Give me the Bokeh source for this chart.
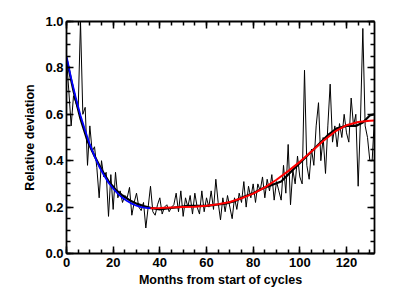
from bokeh.plotting import figure
from bokeh.models import LinearAxis, FixedTicker, PrintfTickFormatter, Range1d
from bokeh.embed import file_html
from bokeh.resources import INLINE

# Monthly relative deviation (thin noisy line), months 0..132
months = list(range(133))
deviation = [
    0.84, 0.70, 0.55, 0.68, 0.65, 0.62, 1.00, 0.60, 0.63, 0.38,
    0.55, 0.44, 0.46, 0.37, 0.24, 0.40, 0.33, 0.35, 0.16, 0.34,
    0.19, 0.35, 0.24, 0.27, 0.22, 0.25, 0.24, 0.285, 0.165, 0.22,
    0.26, 0.20, 0.185, 0.22, 0.11, 0.20, 0.29, 0.18, 0.165, 0.21,
    0.24, 0.17, 0.20, 0.21, 0.18, 0.20, 0.21, 0.26, 0.18, 0.27,
    0.16, 0.24, 0.20, 0.25, 0.17, 0.26, 0.20, 0.17, 0.27, 0.18,
    0.24, 0.20, 0.27, 0.19, 0.32, 0.22, 0.145, 0.24, 0.18, 0.25,
    0.20, 0.15, 0.24, 0.19, 0.26, 0.22, 0.31, 0.20, 0.29, 0.24,
    0.30, 0.22, 0.30, 0.27, 0.33, 0.24, 0.32, 0.27, 0.34, 0.23,
    0.31, 0.27, 0.23, 0.38, 0.26, 0.47, 0.21, 0.36, 0.30, 0.42,
    0.33, 0.30, 0.79, 0.38, 0.32, 0.45, 0.38, 0.55, 0.65, 0.40,
    0.50, 0.345, 0.55, 0.73, 0.48, 0.55, 0.46, 0.56, 0.50, 0.60,
    0.52, 0.48, 0.67, 0.55, 0.60, 0.29, 0.58, 0.97, 0.55, 0.50,
    0.40, 0.40, 0.59,
]

# Smoothed curve (thick black)
smooth_months = [0, 3, 6, 9, 12, 15, 18, 21, 24, 27, 30, 33, 36, 40, 44, 48,
                 52, 56, 60, 64, 68, 72, 76, 80, 84, 88, 92, 96, 100, 104,
                 108, 112, 116, 120, 124, 127, 130, 132]
smooth_values = [0.84, 0.70, 0.58, 0.485, 0.42, 0.362, 0.312, 0.276, 0.25, 0.23,
                 0.215, 0.205, 0.197, 0.19, 0.195, 0.20, 0.205, 0.205, 0.205,
                 0.21, 0.215, 0.225, 0.245, 0.26, 0.28, 0.295, 0.31, 0.35,
                 0.39, 0.43, 0.47, 0.51, 0.54, 0.55, 0.55, 0.565, 0.595, 0.60]

# Fit for the declining phase (blue)
blue_months = [0, 2, 4, 6, 8, 10, 12, 14, 16, 18, 20, 22, 24, 26, 28, 30, 32, 34, 36]
blue_values = [0.85, 0.755, 0.67, 0.595, 0.53, 0.47, 0.42, 0.375, 0.338, 0.305,
               0.28, 0.258, 0.24, 0.226, 0.215, 0.206, 0.200, 0.197, 0.195]

# Fit for the rising phase (red)
red_months = [36, 40, 45, 50, 55, 60, 65, 70, 75, 80, 85, 90, 95, 100, 105,
              110, 115, 120, 125, 130, 132]
red_values = [0.195, 0.196, 0.198, 0.200, 0.202, 0.206, 0.212, 0.222, 0.238,
              0.258, 0.285, 0.318, 0.355, 0.395, 0.44, 0.485, 0.525, 0.553,
              0.567, 0.572, 0.573]

x_ticks = [0, 20, 40, 60, 80, 100, 120]
x_minor = list(range(0, 133, 5))
y_ticks = [0.0, 0.2, 0.4, 0.6, 0.8, 1.0]
y_minor = [i * 0.05 for i in range(21)]

FONT = "Liberation Sans"

p = figure(width=388, height=293, output_backend="svg", toolbar_location=None,
           x_range=Range1d(0, 132), y_range=Range1d(0, 1.0),
           min_border_left=66, min_border_right=14, min_border_top=21,
           min_border_bottom=40, x_axis_label="Months from start of cycles",
           y_axis_label="Relative deviation")
p.grid.visible = False
p.outline_line_color = None
p.background_fill_color = "white"
p.border_fill_color = "white"

p.line(months, deviation, line_color="black", line_width=1)
p.line(smooth_months, smooth_values, line_color="black", line_width=2.2)
p.line(blue_months, blue_values, line_color="#0000ff", line_width=1.8)
p.line(red_months, red_values, line_color="#ff0000", line_width=2)

bottom = p.below[0]
left = p.left[0]
top = LinearAxis()
right = LinearAxis()
p.add_layout(top, "above")
p.add_layout(right, "right")

for ax in [bottom, top]:
    ax.ticker = FixedTicker(ticks=x_ticks, minor_ticks=x_minor)
for ax in [left, right]:
    ax.ticker = FixedTicker(ticks=y_ticks, minor_ticks=y_minor)
left.formatter = PrintfTickFormatter(format="%.1f")

for ax in [bottom, left, top, right]:
    ax.axis_line_width = 1.8
    ax.axis_line_color = "black"
    ax.major_tick_in = 7
    ax.major_tick_out = 0
    ax.minor_tick_in = 4
    ax.minor_tick_out = 0
    ax.major_tick_line_width = 1.5
    ax.minor_tick_line_width = 1.5
    ax.major_tick_line_color = "black"
    ax.minor_tick_line_color = "black"
    ax.major_label_text_font = FONT
    ax.major_label_text_font_style = "bold"
    ax.major_label_text_font_size = "13px"
    ax.major_label_text_color = "black"
    ax.axis_label_text_font = FONT
    ax.axis_label_text_font_style = "bold"
    ax.axis_label_text_font_size = "12.5px"
    ax.axis_label_text_color = "black"

for ax in [top, right]:
    ax.major_label_text_font_size = "1px"
    ax.major_label_text_color = None
    ax.major_label_standoff = 0

bottom.major_label_standoff = 4
bottom.axis_label_standoff = 3
left.major_label_standoff = 3
left.axis_label_standoff = 5

open("out.html", "w").write(file_html(p, INLINE))
